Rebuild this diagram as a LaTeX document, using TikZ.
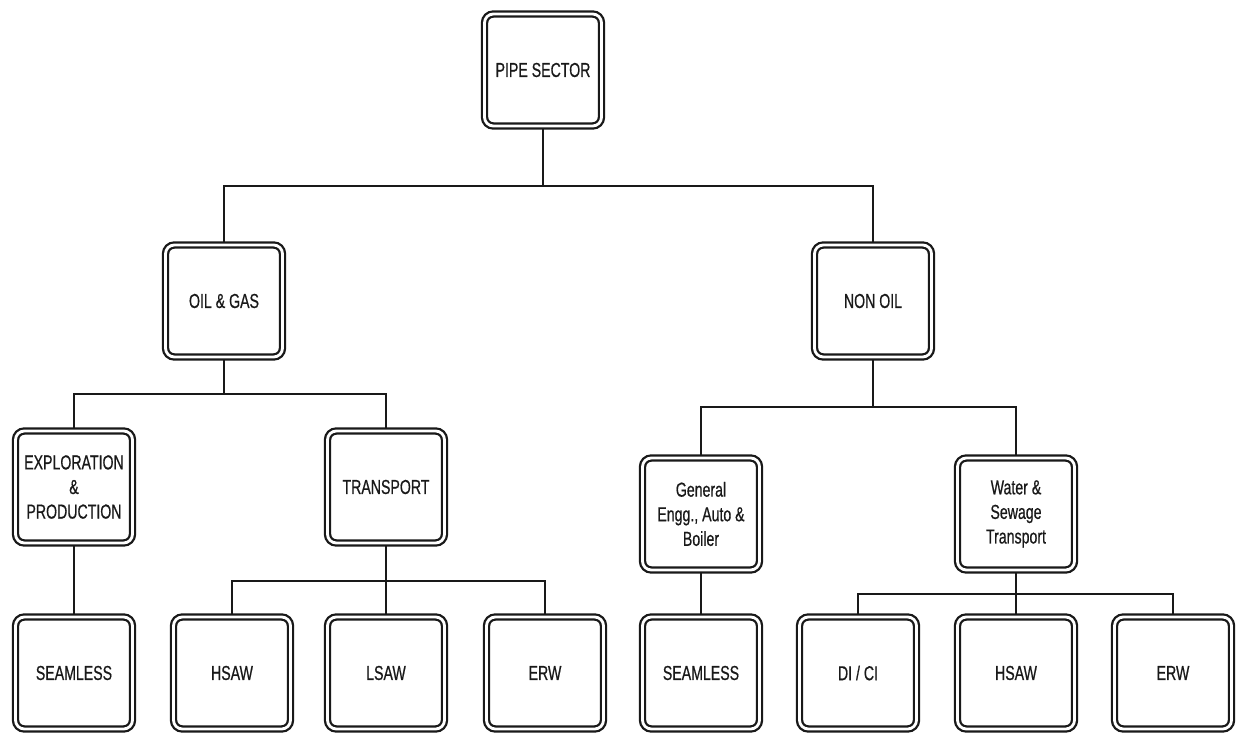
\documentclass[tikz,border=0pt]{standalone}
\usepackage{fontspec}
\setmainfont{Liberation Sans}[FakeStretch=0.7, FakeBold=0.6]
\usetikzlibrary{backgrounds}

\tikzset{
  unit/.style={draw=black!90, double=white, double distance=1.6pt, line width=1.3pt,
    rounded corners=5pt, fill=white, minimum width=2.34cm, minimum height=2.24cm,
    inner sep=2pt, align=center, text=black!90, font=\fontsize{11.5}{14}\selectfont},
  link/.style={draw=black!90, line width=1.6pt}
}

\begin{document}
\begin{tikzpicture}[x=0.02cm, y=-0.02cm]
\useasboundingbox (0,0) rectangle (1241,733);

\node[unit] (pipe) at (543,70) {PIPE SECTOR};

\node[unit] (oil) at (224,301) {OIL \& GAS};
\node[unit] (nonoil) at (873,301) {NON OIL};

\node[unit] (explore) at (74,487) {EXPLORATION\\\&\\PRODUCTION};
\node[unit] (transport) at (386,487) {TRANSPORT};
\node[unit] (general) at (701,514) {General\\Engg., Auto \&\\Boiler};
\node[unit] (water) at (1016,514) {Water \&\\Sewage\\Transport};

\node[unit] (seamlessA) at (74,673) {SEAMLESS};
\node[unit] (hsawA) at (232,673) {HSAW};
\node[unit] (lsaw) at (386,673) {LSAW};
\node[unit] (erwA) at (545,673) {ERW};
\node[unit] (seamlessB) at (701,673) {SEAMLESS};
\node[unit] (dici) at (858,673) {DI / CI};
\node[unit] (hsawB) at (1016,673) {HSAW};
\node[unit] (erwB) at (1173,673) {ERW};

\begin{scope}[on background layer]
\coordinate (busTop) at (543,186);
\coordinate (busOil) at (224,394);
\coordinate (busNon) at (873,407);
\coordinate (busTrans) at (386,581);
\coordinate (busWater) at (1016,594);

\draw[link] (pipe) -- (busTop);
\draw[link] (oil.north) |- (busTop) -| (nonoil.north);

\draw[link] (oil) -- (busOil);
\draw[link] (explore.north) |- (busOil) -| (transport.north);

\draw[link] (nonoil) -- (busNon);
\draw[link] (general.north) |- (busNon) -| (water.north);

\draw[link] (explore) -- (seamlessA);
\draw[link] (general) -- (seamlessB);

\draw[link] (transport) -- (lsaw);
\draw[link] (hsawA.north) |- (busTrans) -| (erwA.north);

\draw[link] (water) -- (hsawB);
\draw[link] (dici.north) |- (busWater) -| (erwB.north);
\end{scope}
\end{tikzpicture}
\end{document}
